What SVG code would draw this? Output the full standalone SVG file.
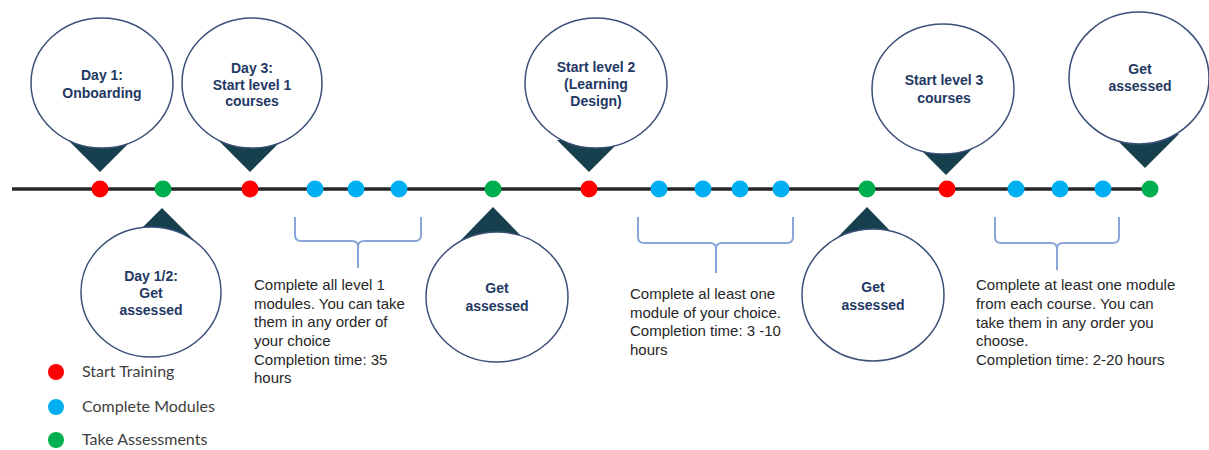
<svg xmlns="http://www.w3.org/2000/svg" width="1209" height="450" viewBox="0 0 1209 450">
<style>
.bubble{fill:#fff;stroke:#3b5078;stroke-width:1.5}
.ptr{fill:#17404f}
.ct{font-family:"Liberation Sans",Arial,sans-serif;font-weight:bold;font-size:14px;fill:#1f3864;text-anchor:middle}
.desc{font-family:"Liberation Sans",Arial,sans-serif;font-size:15px;fill:#262626}
.leg{font-family:Lato,"Open Sans",sans-serif;font-size:16px;fill:#404040}
.brace{fill:none;stroke:#8aa6d8;stroke-width:2}
.r{fill:#ff0000}.b{fill:#00b0f0}.g{fill:#00b050}
</style>
<rect width="1209" height="450" fill="#fff"/>
<g id="connectors">
<line x1="12" y1="189" x2="1150" y2="189" stroke="#262626" stroke-width="3.5"/>
<path class="brace" d="M295,217 V235 Q295,241 301,241 H352 Q358,241 358,247 V268 M358,247 Q358,241 364,241 H415 Q421,241 421,235 V217"/>
<path class="brace" d="M638,217 V237 Q638,243 644,243 H710 Q716,243 716,249 V273 M716,249 Q716,243 722,243 H787 Q793,243 793,237 V217"/>
<path class="brace" d="M995,217 V237 Q995,243 1001,243 H1051 Q1057,243 1057,249 V270 M1057,249 Q1057,243 1063,243 H1113 Q1119,243 1119,237 V217"/>
</g>
<g id="dots">
<circle class="r" cx="100" cy="189" r="8.5"/>
<circle class="g" cx="163" cy="189" r="8.5"/>
<circle class="r" cx="250" cy="189" r="8.5"/>
<circle class="b" cx="315" cy="189" r="8.5"/>
<circle class="b" cx="356" cy="189" r="8.5"/>
<circle class="b" cx="399" cy="189" r="8.5"/>
<circle class="g" cx="493" cy="189" r="8.5"/>
<circle class="r" cx="589" cy="189" r="8.5"/>
<circle class="b" cx="659" cy="189" r="8.5"/>
<circle class="b" cx="703" cy="189" r="8.5"/>
<circle class="b" cx="740" cy="189" r="8.5"/>
<circle class="b" cx="781" cy="189" r="8.5"/>
<circle class="g" cx="867" cy="189" r="8.5"/>
<circle class="r" cx="947" cy="189" r="8.5"/>
<circle class="b" cx="1016" cy="189" r="8.5"/>
<circle class="b" cx="1060" cy="189" r="8.5"/>
<circle class="b" cx="1103" cy="189" r="8.5"/>
<circle class="g" cx="1150" cy="189" r="8.5"/>
</g>
<g id="day1">
<polygon class="ptr" points="68,140 132,140 100,172"/>
<ellipse class="bubble" cx="102" cy="83" rx="71" ry="65"/>
<text class="ct" x="102" y="80">Day 1:</text>
<text class="ct" x="102" y="98">Onboarding</text>
</g>
<g id="day3">
<polygon class="ptr" points="218,140 282,140 250,172"/>
<ellipse class="bubble" cx="252" cy="83" rx="70" ry="65"/>
<text class="ct" x="252" y="73">Day 3:</text>
<text class="ct" x="252" y="90">Start level 1</text>
<text class="ct" x="252" y="106">courses</text>
</g>
<g id="level2">
<polygon class="ptr" points="557,140 621,140 589,172"/>
<ellipse class="bubble" cx="596" cy="83" rx="71" ry="65"/>
<text class="ct" x="596" y="72">Start level 2</text>
<text class="ct" x="596" y="89">(Learning</text>
<text class="ct" x="596" y="106">Design)</text>
</g>
<g id="level3">
<polygon class="ptr" points="914,143 978,143 946,175"/>
<ellipse class="bubble" cx="943" cy="89" rx="71" ry="65"/>
<text class="ct" x="944" y="85">Start level 3</text>
<text class="ct" x="944" y="103">courses</text>
</g>
<g id="assess4">
<polygon class="ptr" points="1111,134 1179,134 1145,168"/>
<ellipse class="bubble" cx="1139" cy="78" rx="70" ry="66"/>
<text class="ct" x="1140" y="74">Get</text>
<text class="ct" x="1140" y="91">assessed</text>
</g>
<g id="day12">
<polygon class="ptr" points="130,240 194,240 162,208"/>
<ellipse class="bubble" cx="151" cy="292" rx="70" ry="65"/>
<text class="ct" x="151" y="281">Day 1/2:</text>
<text class="ct" x="151" y="298">Get</text>
<text class="ct" x="151" y="315">assessed</text>
</g>
<g id="assess2">
<polygon class="ptr" points="461,240 525,240 493,207"/>
<ellipse class="bubble" cx="497" cy="297" rx="71" ry="65"/>
<text class="ct" x="497" y="293">Get</text>
<text class="ct" x="497" y="311">assessed</text>
</g>
<g id="assess3">
<polygon class="ptr" points="835,240 899,240 867,207"/>
<ellipse class="bubble" cx="873" cy="295" rx="71" ry="66"/>
<text class="ct" x="873" y="292">Get</text>
<text class="ct" x="873" y="310">assessed</text>
</g>
<g id="desc1">
<text class="desc" x="254" y="290">Complete all level 1</text>
<text class="desc" x="254" y="309">modules. You can take</text>
<text class="desc" x="254" y="327">them in any order of</text>
<text class="desc" x="254" y="346">your choice</text>
<text class="desc" x="254" y="365">Completion time: 35</text>
<text class="desc" x="254" y="383">hours</text>
</g>
<g id="desc2">
<text class="desc" x="630" y="299">Complete al least one</text>
<text class="desc" x="630" y="318">module of your choice.</text>
<text class="desc" x="630" y="336">Completion time: 3 -10</text>
<text class="desc" x="630" y="355">hours</text>
</g>
<g id="desc3">
<text class="desc" x="976" y="290">Complete at least one module</text>
<text class="desc" x="976" y="309">from each course. You can</text>
<text class="desc" x="976" y="328">take them in any order you</text>
<text class="desc" x="976" y="346">choose.</text>
<text class="desc" x="976" y="365">Completion time: 2-20 hours</text>
</g>
<g id="legend">
<circle class="r" cx="56" cy="372" r="8"/>
<text class="leg" x="82" y="377">Start Training</text>
<circle class="b" cx="56" cy="407" r="8"/>
<text class="leg" x="82" y="412">Complete Modules</text>
<circle class="g" cx="56" cy="440" r="8"/>
<text class="leg" x="82" y="445">Take Assessments</text>
</g>
</svg>
